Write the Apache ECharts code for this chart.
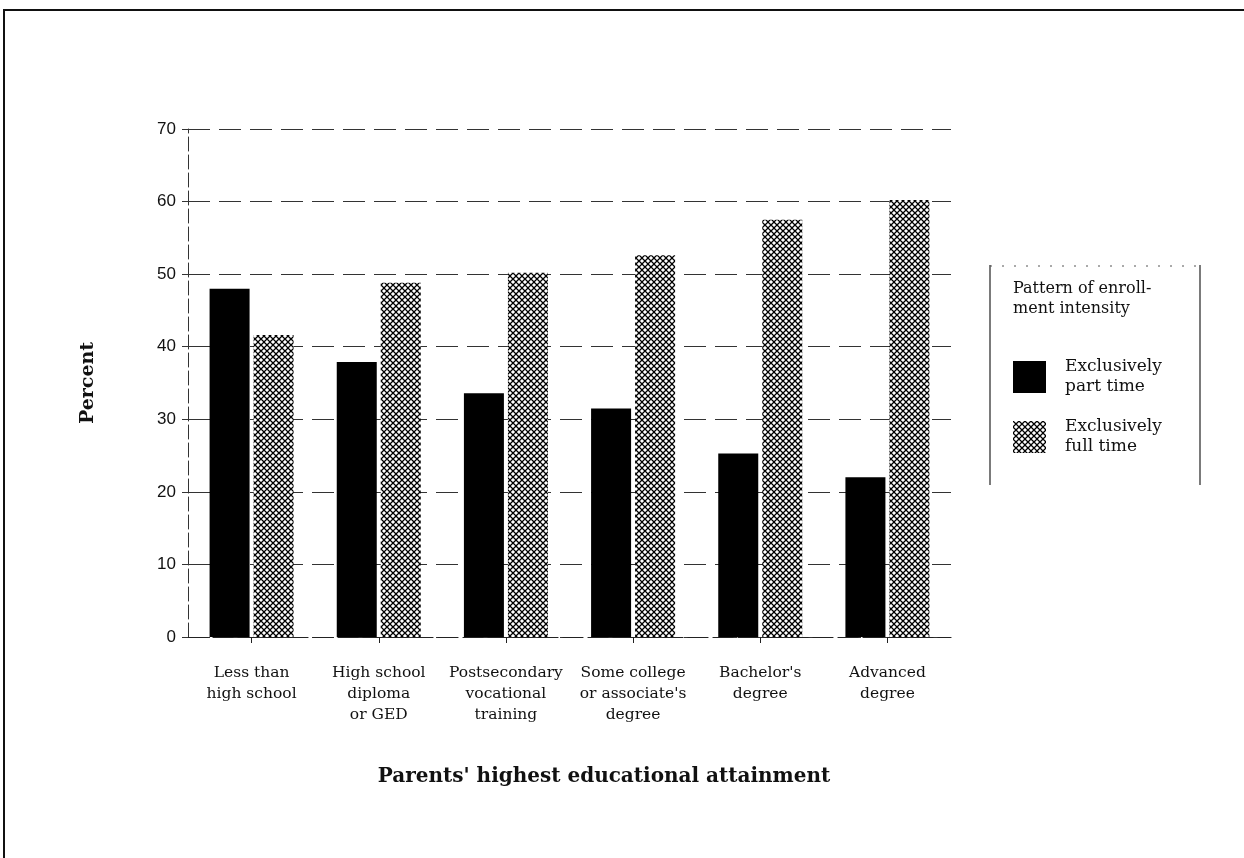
<!DOCTYPE html>
<html><head><meta charset="utf-8">
<script src="https://cdn.jsdelivr.net/npm/echarts@6/dist/echarts.min.js"></script>
<style>html,body{margin:0;padding:0;background:#fff}#c{width:1244px;height:858px}</style>
</head><body><div id="c"></div>
<script>
const categories = ["Less than\nhigh school","High school\ndiploma\nor GED","Postsecondary\nvocational\ntraining","Some college\nor associate's\ndegree","Bachelor's\ndegree","Advanced\ndegree"];
const partTime = [48.0, 37.9, 33.6, 31.5, 25.3, 22.0];
const fullTime = [41.6, 48.8, 50.2, 52.6, 57.5, 60.2];
const seriesNames = ["Exclusively\npart time", "Exclusively\nfull time"];
const yTicks = [0,10,20,30,40,50,60,70];
const xTitle = "Parents' highest educational attainment";

function hatch(){
  const c = document.createElement('canvas');
  c.width = 6; c.height = 6;
  const g = c.getContext('2d');
  g.fillStyle = '#fff'; g.fillRect(0,0,6,6);
  g.strokeStyle = '#000'; g.lineWidth = 1.25;
  g.beginPath();
  g.moveTo(-1,-1); g.lineTo(7,7);
  g.moveTo(-1,7); g.lineTo(7,-1);
  g.stroke();
  return c;
}
const pat = {image: hatch(), repeat: 'repeat'};
const serif = '"DejaVu Serif", "Liberation Serif", serif';
const sans = '"Liberation Sans", Arial, sans-serif';

const chart = echarts.init(document.getElementById('c'), null, {renderer:'canvas'});
chart.setOption({
  animation:false,
  backgroundColor:'#fff',
  grid:{left:188, top:129, width:763, bottom:221, containLabel:false},
  xAxis:{
    type:'category', data:categories,
    axisLine:{show:true, lineStyle:{color:'#222', width:1.2, type:[20,5]}},
    axisTick:{show:true, alignWithLabel:true, length:6, lineStyle:{color:'#222'}},
    axisLabel:{fontFamily:serif, fontSize:15.5, color:'#111', lineHeight:21, margin:25, interval:0}
  },
  yAxis:{
    type:'value', min:0, max:70, interval:10,
    axisLine:{show:true, lineStyle:{color:'#333', width:1, type:[14,4]}},
    axisTick:{show:true, length:6, lineStyle:{color:'#333'}},
    axisLabel:{fontFamily:sans, fontSize:17, color:'#111', margin:12,
      formatter:v=> yTicks.includes(v)? String(v):''},
    splitLine:{show:true, lineStyle:{color:'#333', width:1.2, type:[22,9]}},
    name:'Percent', nameLocation:'middle', nameGap:90, nameRotate:90,
    nameTextStyle:{fontFamily:serif, fontSize:19, fontWeight:'bold', color:'#111'}
  },
  legend:{
    orient:'vertical', left:1008, top:352, itemWidth:33, itemHeight:32, itemGap:20,
    icon:'rect', selectedMode:false,
    textStyle:{fontFamily:serif, fontSize:17, color:'#111', lineHeight:20, padding:[0,0,0,14]},
    data:seriesNames
  },
  series:[
    {name:seriesNames[0], type:'bar', data:partTime, barWidth:40, barGap:'10%',
     itemStyle:{color:'#000'}},
    {name:seriesNames[1], type:'bar', data:fullTime, barWidth:40,
     itemStyle:{color:pat}}
  ],
  graphic:[
    {type:'line', shape:{x1:3,y1:10,x2:1244,y2:10}, style:{stroke:'#111', lineWidth:2}},
    {type:'line', shape:{x1:4,y1:10,x2:4,y2:858}, style:{stroke:'#111', lineWidth:2}},
    {type:'line', shape:{x1:990,y1:265,x2:990,y2:485}, style:{stroke:'#222', lineWidth:1.2}},
    {type:'line', shape:{x1:1200,y1:265,x2:1200,y2:485}, style:{stroke:'#222', lineWidth:1.2}},
    {type:'line', shape:{x1:990,y1:266,x2:1200,y2:266}, style:{stroke:'#555', lineWidth:1, lineDash:[2,10]}},
    {type:'text', left:1013, top:279, style:{text:'Pattern of enroll-\nment intensity', font:'16px '+serif, fill:'#111', lineHeight:20}},
    {type:'text', x:604, y:777, style:{text:xTitle, font:'bold 20px '+serif, fill:'#111', align:'center', verticalAlign:'middle'}}
  ]
});
</script></body></html>
